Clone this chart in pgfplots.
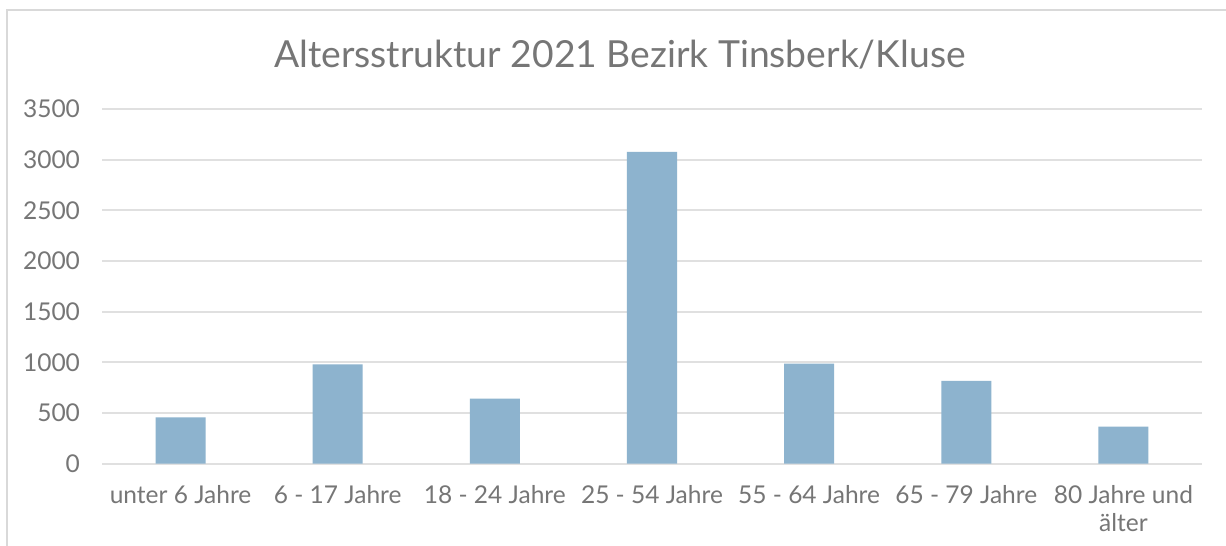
\documentclass[border=0pt]{standalone}
\usepackage{fontspec}
\setmainfont{Lato}
\usepackage{pgfplots}
\pgfplotsset{compat=1.18}
\definecolor{barblue}{RGB}{141,179,206}
\definecolor{txtgray}{RGB}{118,118,118}
\definecolor{gridgray}{RGB}{224,224,224}
\definecolor{bordergray}{RGB}{217,217,217}
\begin{document}
\begin{tikzpicture}
\path[use as bounding box, fill=white] (0,0) rectangle (613bp,273bp);
\draw[bordergray, line width=1bp] (3.5bp,0) -- (3.5bp,268bp) -- (613bp,268bp);
\node[txtgray, font=\fontsize{18.7}{22}\selectfont] at (310bp,245.5bp) {Altersstruktur 2021 Bezirk Tinsberk/Kluse};
\begin{axis}[
  at={(51bp,41.25bp)}, anchor=south west,
  scale only axis, width=550bp, height=177.25bp,
  xmin=-0.5, xmax=6.5, ymin=0, ymax=3500,
  ytick={0,500,...,3500},
  xtick=data,
  xticklabels={unter 6 Jahre,6 - 17 Jahre,18 - 24 Jahre,25 - 54 Jahre,55 - 64 Jahre,65 - 79 Jahre,{80 Jahre und\\älter}},
  axis line style={draw=none},
  ymajorgrids, grid style={gridgray, line width=1bp},
  major tick length=0pt,
  /pgf/number format/assume math mode=true,
  /pgf/number format/1000 sep={},
  tick label style={txtgray, font=\fontsize{12.3}{14}\selectfont},
  yticklabel style={anchor=east, xshift=-7.5bp},
  xticklabel style={align=center, anchor=north, yshift=-7.5bp},
  ybar, bar width=25bp,
]
\addplot[fill=barblue, draw=none] coordinates {(0,455) (1,979) (2,641) (3,3076) (4,986) (5,815) (6,364)};
\end{axis}
\end{tikzpicture}
\end{document}
